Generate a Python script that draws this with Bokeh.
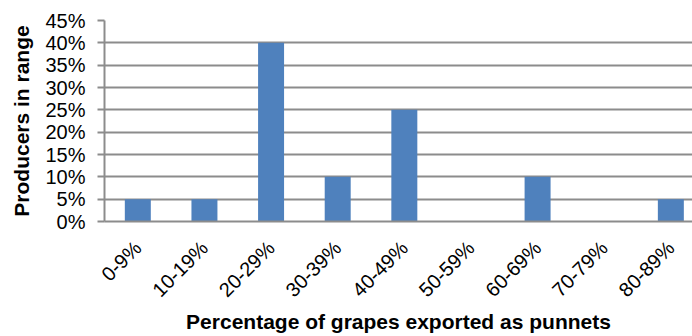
import math
from bokeh.plotting import figure
from bokeh.models import Range1d, FixedTicker, ColumnDataSource
from bokeh.embed import file_html
from bokeh.resources import INLINE

# Share of producers by percentage of grapes exported as punnets
categories = ["0-9%", "10-19%", "20-29%", "30-39%", "40-49%",
              "50-59%", "60-69%", "70-79%", "80-89%"]
producers_pct = [5, 5, 40, 10, 25, 0, 10, 0, 5]
y_ticks = [0, 5, 10, 15, 20, 25, 30, 35, 40, 45]
x_title = "Percentage of grapes exported as punnets"
y_title = "Producers in range"

xs = [i + 0.5 for i in range(len(categories))]
src = ColumnDataSource(dict(x=xs, top=producers_pct))

p = figure(width=692, height=336, output_backend="svg", toolbar_location=None,
           x_range=Range1d(0, 8.825), y_range=Range1d(0, 45),
           min_border_left=104, min_border_right=0, min_border_top=20,
           min_border_bottom=115)
p.outline_line_color = None
p.background_fill_color = "white"
p.border_fill_color = "white"

p.vbar(x="x", top="top", bottom=0, width=0.39, source=src,
       fill_color="#4F81BD", line_color="#4F81BD", line_width=0)

FONT = "Liberation Sans"

# y axis
p.yaxis.ticker = FixedTicker(ticks=y_ticks)
p.yaxis.major_label_overrides = {v: f"{v}%" for v in y_ticks}
p.yaxis.major_label_text_font = FONT
p.yaxis.major_label_text_font_size = "20px"
p.yaxis.major_label_text_color = "black"
p.yaxis.major_label_standoff = 12
p.yaxis.major_tick_in = 0
p.yaxis.major_tick_out = 7
p.yaxis.major_tick_line_color = "#8c8c8c"
p.yaxis.major_tick_line_width = 2
p.yaxis.minor_tick_line_color = None
p.yaxis.axis_line_color = "#8c8c8c"
p.yaxis.axis_line_width = 2
p.yaxis.axis_label = y_title
p.yaxis.axis_label_text_font = FONT
p.yaxis.axis_label_text_font_style = "bold"
p.yaxis.axis_label_text_font_size = "21px"
p.yaxis.axis_label_text_color = "black"
p.yaxis.axis_label_standoff = 9

# x axis
p.xaxis.ticker = FixedTicker(ticks=xs)
p.xaxis.major_label_overrides = {x: c for x, c in zip(xs, categories)}
p.xaxis.major_label_orientation = math.pi / 4
p.xaxis.major_label_text_font = FONT
p.xaxis.major_label_text_font_size = "20px"
p.xaxis.major_label_text_color = "black"
p.xaxis.major_label_standoff = 23
p.xaxis.major_tick_in = 0
p.xaxis.major_tick_out = 0
p.xaxis.minor_tick_line_color = None
p.xaxis.axis_line_color = "#8c8c8c"
p.xaxis.axis_line_width = 2
p.xaxis.axis_label = x_title
p.xaxis.axis_label_text_font = FONT
p.xaxis.axis_label_text_font_style = "bold"
p.xaxis.axis_label_text_font_size = "21px"
p.xaxis.axis_label_text_color = "black"
p.xaxis.axis_label_standoff = -2

p.xgrid.grid_line_color = None
p.ygrid.grid_line_color = "#8c8c8c"
p.ygrid.grid_line_width = 2

open("out.html", "w").write(file_html(p, INLINE))
